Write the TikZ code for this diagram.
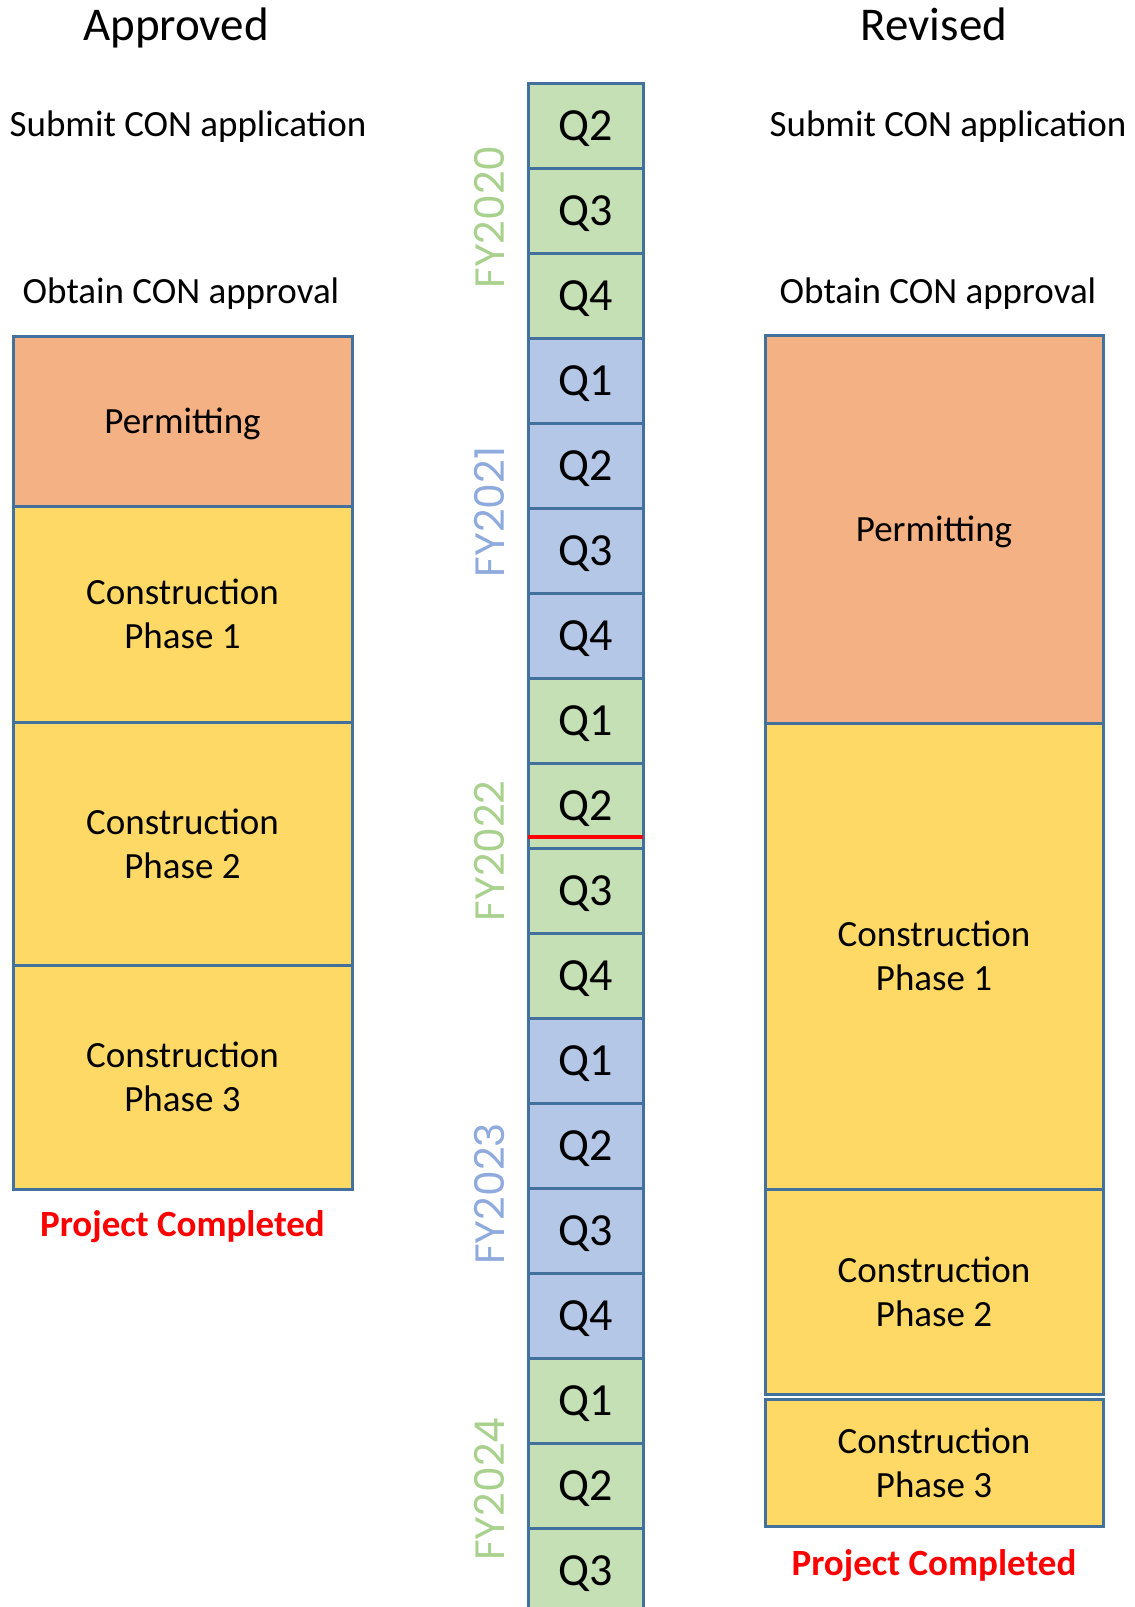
\documentclass[tikz,border=0pt]{standalone}
\usepackage{fontspec}
\setmainfont{Carlito}
\newfontfamily\fyfont{Poppins}
\usepackage{xcolor}
\usepackage{tikz}
\usetikzlibrary{positioning}
\definecolor{qgreen}{HTML}{C5E0B4}
\definecolor{qblue}{HTML}{B4C7E7}
\definecolor{edge}{HTML}{41719C}
\definecolor{permit}{HTML}{F4B183}
\definecolor{build}{HTML}{FFD966}
\definecolor{fygreen}{HTML}{A9D18E}
\definecolor{fyblue}{HTML}{8FAADC}

\begin{document}
\begin{tikzpicture}[x=1pt, y=-1pt,
    txt/.style={inner sep=0pt, outer sep=0pt, text height=23.8pt, text depth=0pt, font=\fontsize{37}{44}\selectfont},
    title/.style={txt, text height=30.3pt, font=\fontsize{47}{56}\selectfont},
    done/.style={txt, text=red, font=\fontsize{37}{44}\selectfont\bfseries},
    fy/.style={txt, rotate=90, text height=28.7pt, font=\fyfont\fontsize{41}{48}\selectfont},
    cell/.style={draw=edge, line width=3, minimum width=115, minimum height=85, inner sep=0pt, outer sep=0pt, text height=29.6pt, text depth=0pt, font=\fontsize{46}{55}\selectfont},
    phasebox/.style={draw=edge, line width=3, minimum height=#1, inner sep=0pt, outer sep=0pt, align=center, text depth=0pt, font=\fontsize{37}{44}\selectfont}]
  \useasboundingbox (0,0) rectangle (1135,1607);

  % Headings
  \node[title] (apptitle) at (176,25.5) {Approved};
  \node[title] (revtitle) at (934,25.5) {Revised};
  \node[txt] (asubmit) at (188,125) {Submit CON application};
  \node[txt] (rsubmit) at (948,125) {Submit CON application};
  \node[txt] (aobtain) at (181,291.5) {Obtain CON approval};
  \node[txt] (robtain) at (938,291.5) {Obtain CON approval};

  % Quarter column
  \foreach \q/\c [count=\k from 0] in {Q2/qgreen, Q3/qgreen, Q4/qgreen,
      Q1/qblue, Q2/qblue, Q3/qblue, Q4/qblue,
      Q1/qgreen, Q2/qgreen, Q3/qgreen, Q4/qgreen,
      Q1/qblue, Q2/qblue, Q3/qblue, Q4/qblue,
      Q1/qgreen, Q2/qgreen, Q3/qgreen}
    \node[cell, fill=\c] (q\k) at (585.5,125.5+85*\k) {\q};
  \draw[red, line width=4] ([yshift=11]q8.south west) -- ([yshift=11]q8.south east);

  % Fiscal years
  \node[fy, text=fygreen] (fy2020) at (490,217) {FY2020};
  \node[fy, text=fyblue] (fy2021) at (490,512) {FY2021};
  \node[fy, text=fygreen] (fy2022) at (490,851) {FY2022};
  \node[fy, text=fyblue] (fy2023) at (490,1194) {FY2023};
  \node[fy, text=fygreen] (fy2024) at (490,1489) {FY2024};

  % Approved schedule
  \node[phasebox=170, minimum width=339, fill=permit, anchor=north] (apermit) at (182.5,336) {Permitting};
  \node[phasebox=216, minimum width=339, fill=build, below=0pt of apermit] (aphase1) {Construction\\Phase 1};
  \node[phasebox=243, minimum width=339, fill=build, below=0pt of aphase1] (aphase2) {Construction\\Phase 2};
  \node[phasebox=224, minimum width=339, fill=build, below=0pt of aphase2] (aphase3) {Construction\\Phase 3};
  \node[done, below=24pt of aphase3] (adone) {Project Completed};

  % Revised schedule
  \node[phasebox=388, minimum width=338, fill=permit, anchor=north] (rpermit) at (934,335) {Permitting};
  \node[phasebox=466, minimum width=338, fill=build, below=0pt of rpermit] (rphase1) {Construction\\Phase 1};
  \node[phasebox=205, minimum width=338, fill=build, below=0pt of rphase1] (rphase2) {Construction\\Phase 2};
  \node[phasebox=127, minimum width=338, fill=build, below=5pt of rphase2] (rphase3) {Construction\\Phase 3};
  \node[done, below=26pt of rphase3] (rdone) {Project Completed};
\end{tikzpicture}
\end{document}
